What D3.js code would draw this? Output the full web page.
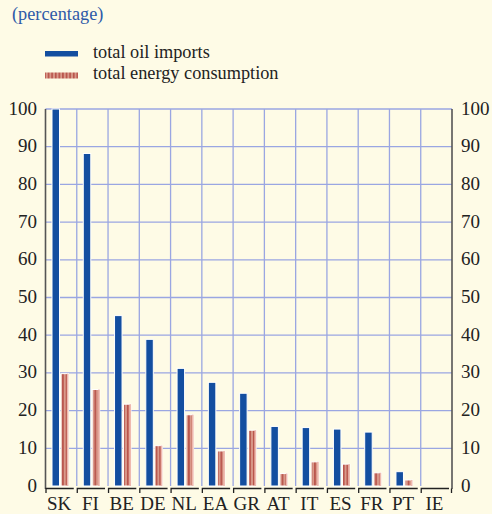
<!DOCTYPE html>
<html><head><meta charset="utf-8">
<script src="https://cdn.jsdelivr.net/npm/d3@7"></script>
<style>
html,body{margin:0;padding:0;background:#fefbe6;}
svg{display:block;}
svg text{font-family:'Liberation Serif','Tinos','Times New Roman','DejaVu Serif',serif;}
</style></head>
<body>
<svg id="c" width="492" height="514"></svg>
<script>
const categories = ["SK","FI","BE","DE","NL","EA","GR","AT","IT","ES","FR","PT","IE"];
const oilImports = [100,88.2,45.2,38.9,31.2,27.5,24.6,15.8,15.5,15.1,14.3,3.8,0];
const energyConsumption = [29.8,25.6,21.7,10.7,18.9,9.3,14.8,3.3,6.4,5.8,3.5,1.6,0];
const yTicks = [0,10,20,30,40,50,60,70,80,90,100];
const seriesNames = ["total oil imports","total energy consumption"];

(function(){
const FONT = "'Liberation Serif','Tinos','Times New Roman','DejaVu Serif',serif";
const svg = d3.select("#c");
const pL = 45.5, pR = 452, pT = 109, pB = 486;
const x = d3.scaleBand().domain(categories).range([pL, pR]).paddingInner(0).paddingOuter(0);
const y = d3.scaleLinear().domain([0,100]).range([pB, pT]);

svg.append("rect").attr("width",492).attr("height",514).attr("fill","#fefbe6");

const defs = svg.append("defs");
const pat = defs.append("pattern").attr("id","stripe").attr("patternUnits","userSpaceOnUse")
  .attr("width",3.6).attr("height",10);
pat.append("rect").attr("width",3.6).attr("height",10).attr("fill","#d9998a");
pat.append("rect").attr("x",1.2).attr("width",1.1).attr("height",10).attr("fill","#a8302a");

// grid
const grid = svg.append("g").attr("stroke","#9aa6e2").attr("stroke-width",1.3);
yTicks.filter(t=>t>0).forEach(t=>{
  grid.append("line").attr("x1",pL).attr("x2",pR).attr("y1",y(t)).attr("y2",y(t));
});
categories.slice(1).forEach(c=>{
  grid.append("line").attr("x1",x(c)).attr("x2",x(c)).attr("y1",pT).attr("y2",pB);
});

// bars
const bw = 7.5;
const bars = svg.append("g");
categories.forEach((c,i)=>{
  const x0 = x(c);
  if (oilImports[i] > 0)
    bars.append("rect").attr("x",x0+6.5).attr("y",y(oilImports[i])).attr("width",bw)
      .attr("height",pB-y(oilImports[i])).attr("fill","#134ea0")
      .attr("stroke","#ffffff").attr("stroke-width",1);
  if (energyConsumption[i] > 0) {
    const g = bars.append("g");
    g.append("rect").attr("x",x0+15.5).attr("y",y(energyConsumption[i])).attr("width",bw)
      .attr("height",pB-y(energyConsumption[i])).attr("fill","url(#stripe)")
      .attr("stroke","#ffffff").attr("stroke-width",1);
    g.append("rect").attr("x",x0+15.5+bw-1.6).attr("y",y(energyConsumption[i])).attr("width",1.6)
      .attr("height",pB-y(energyConsumption[i])).attr("fill","#eeb9ae");
  }
});

// axes lines
const ax = svg.append("g").attr("stroke","#555").attr("stroke-width",1.6);
ax.append("line").attr("x1",pL).attr("x2",pL).attr("y1",pT).attr("y2",489);
ax.append("line").attr("x1",pR).attr("x2",pR).attr("y1",pT).attr("y2",489);

// bottom axis segments
const bax = svg.append("g").attr("stroke","#222").attr("stroke-width",1.3).attr("fill","none");
categories.forEach((c,i)=>{
  const x0 = x(c), x1 = x0 + x.bandwidth();
  bax.append("path").attr("d",`M${x0+0.5},${493}V${488.5}H${x1-3}`);
});
bax.append("path").attr("d",`M${pR-0.5},${488.5}V${493}`);

// y tick labels
const tl = svg.append("g").attr("font-family",FONT).attr("font-size",19).attr("fill","#222");
yTicks.forEach(t=>{
  tl.append("text").attr("x",37).attr("y",y(t)+5.5).attr("text-anchor","end").text(t);
  tl.append("text").attr("x",pR+9).attr("y",y(t)+5.5).attr("text-anchor","start").text(t);
});

// x labels
categories.forEach(c=>{
  tl.append("text").attr("x",x(c)+x.bandwidth()/2-2).attr("y",509.5).attr("text-anchor","middle").text(c);
});

// title
svg.append("text").attr("font-family",FONT).attr("x",12).attr("y",20).attr("font-size",18.3).attr("fill","#2e5aa8").text("(percentage)");

// legend
svg.append("rect").attr("x",45).attr("y",51).attr("width",33).attr("height",5.5).attr("fill","#134ea0");
svg.append("rect").attr("x",45).attr("y",72.5).attr("width",33).attr("height",6).attr("fill","url(#stripe)");
svg.append("text").attr("font-family",FONT).attr("x",93).attr("y",58).attr("font-size",18.3).attr("fill","#222").text(seriesNames[0]);
svg.append("text").attr("font-family",FONT).attr("x",93).attr("y",79).attr("font-size",18.3).attr("fill","#222").text(seriesNames[1]);
})();
</script>
</body></html>
